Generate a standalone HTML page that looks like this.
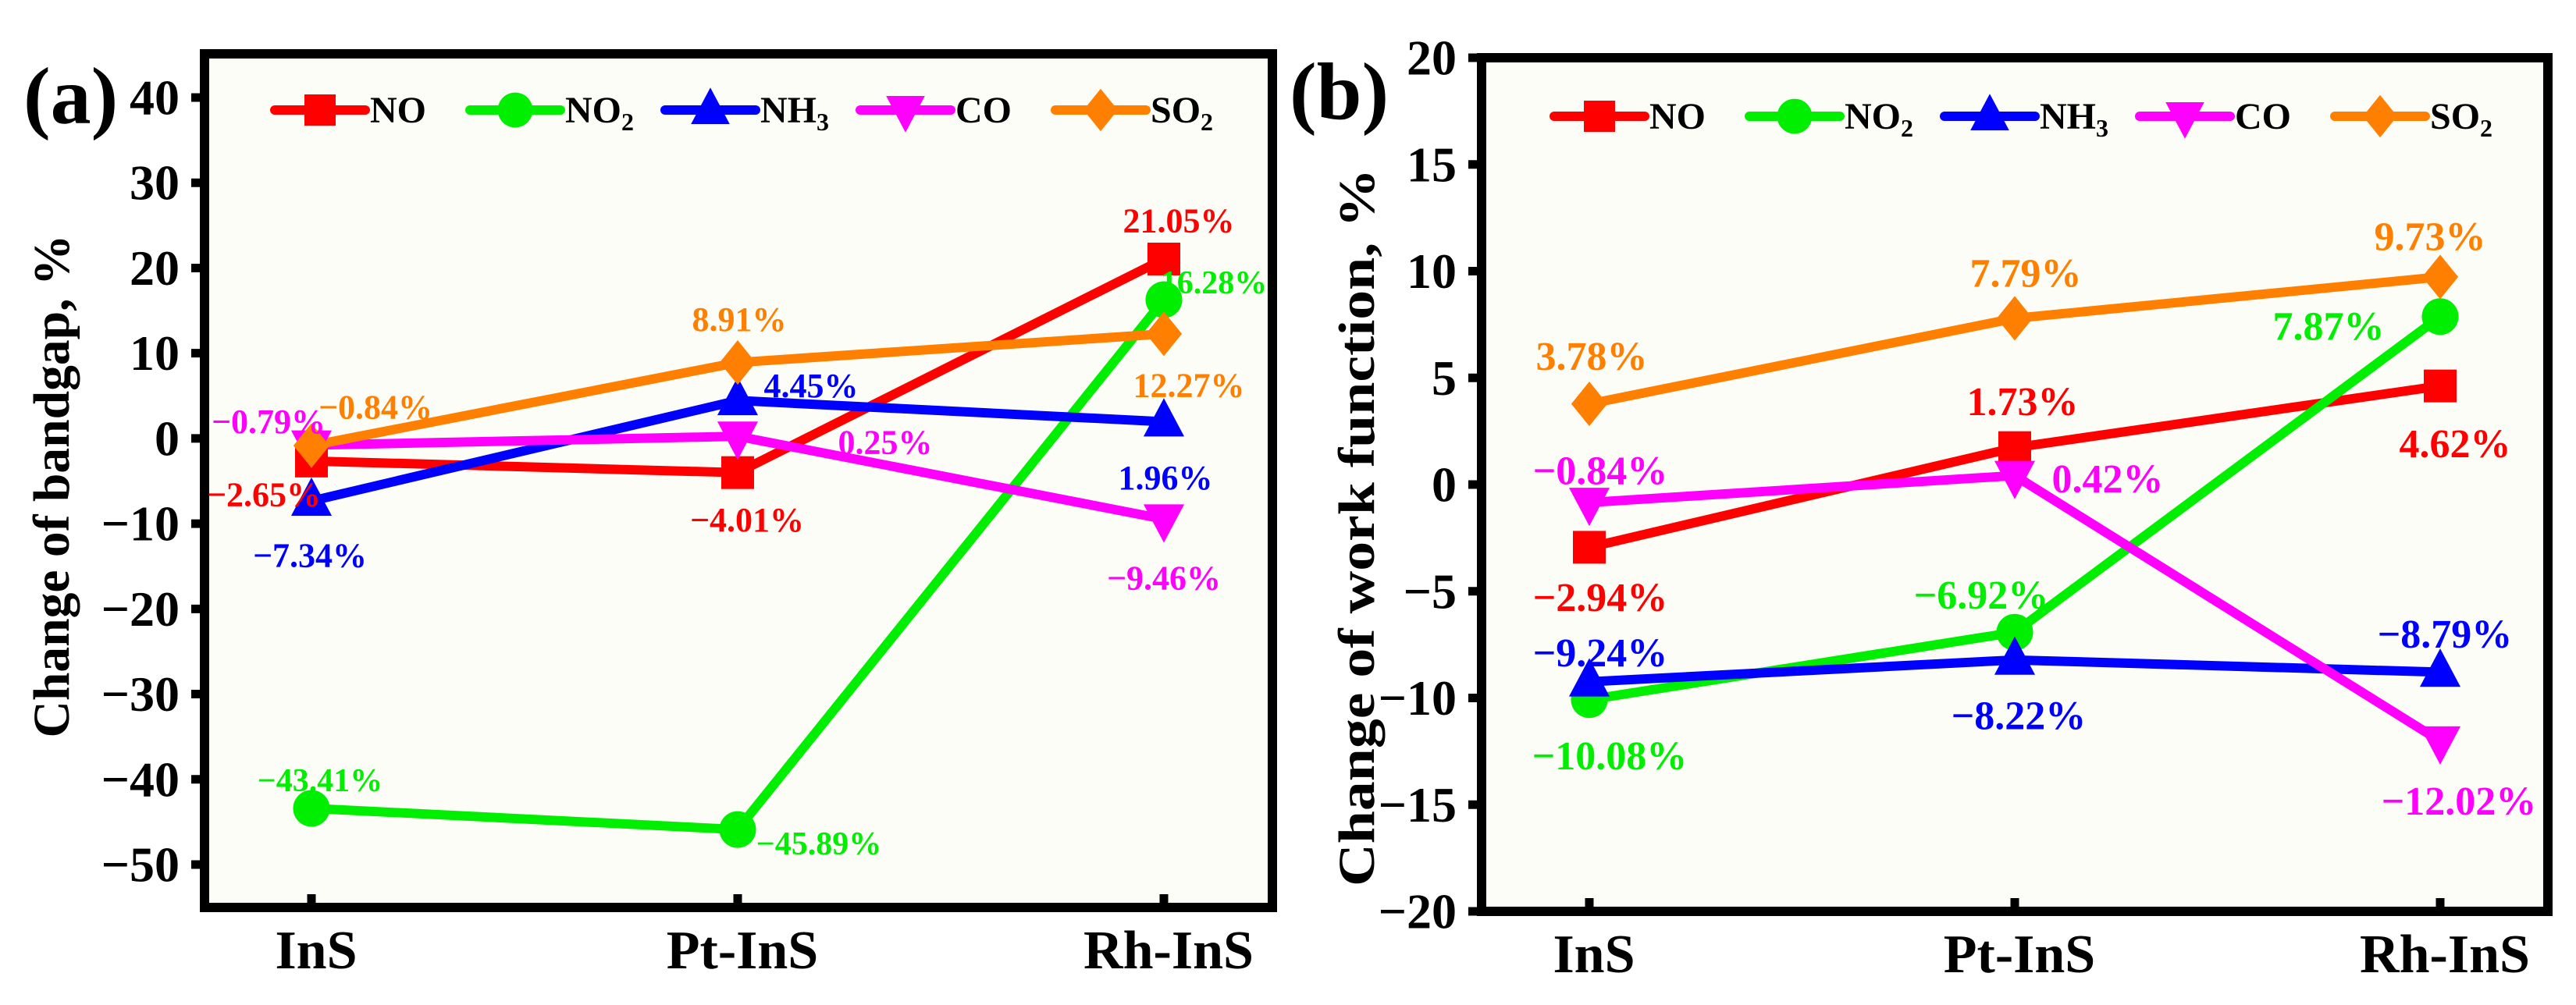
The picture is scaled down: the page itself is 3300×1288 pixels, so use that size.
<!DOCTYPE html>
<html><head><meta charset="utf-8">
<style>
html,body{margin:0;padding:0;background:#fff;}
svg{display:block;}
svg text{font-family:"Liberation Serif","DejaVu Serif Condensed","DejaVu Serif",serif;font-weight:bold;font-stretch:condensed;}
</style></head>
<body>
<svg id="chart" width="3300" height="1288" viewBox="0 0 3300 1288" xmlns="http://www.w3.org/2000/svg" font-weight="bold">
</svg>
<script>
// ---------- data ----------
const categories = ["InS", "Pt-InS", "Rh-InS"];
const seriesNames = ["NO", "NO2", "NH3", "CO", "SO2"];
// Panel (a): change of bandgap, %
const bandNO  = [-2.65, -4.01, 21.05];
const bandNO2 = [-43.41, -45.89, 16.28];
const bandNH3 = [-7.34, 4.45, 1.96];
const bandCO  = [-0.79, 0.25, -9.46];
const bandSO2 = [-0.84, 8.91, 12.27];
// Panel (b): change of work function, %
const workNO  = [-2.94, 1.73, 4.62];
const workNO2 = [-10.08, -6.92, 7.87];
const workNH3 = [-9.24, -8.22, -8.79];
const workCO  = [-0.84, 0.42, -12.02];
const workSO2 = [3.78, 7.79, 9.73];
const ticksA = [-50, -40, -30, -20, -10, 0, 10, 20, 30, 40];
const ticksB = [-20, -15, -10, -5, 0, 5, 10, 15, 20];

// ---------- styling ----------
const colors = ["#ff0000", "#00ee00", "#0000ff", "#ff00ff", "#ff8000"];
const markers = ["square", "circle", "up", "down", "diamond"];
// label offsets (px) relative to each marker [series][category]
const offA = [[[-61,43],[12,61],[19,-49]],
              [[11,-35],[104,19],[64,-21]],
              [[-2,70],[94,-19],[2,72]],
              [[-55,-30],[189,8],[0,76]],
              [[82,-49],[2,-55],[32,66]]];
const offB = [[[14,65],[10,-58],[19,75]],
              [[26,73],[-43,-47],[-143,13]],
              [[14,-36],[5,72],[6,-48]],
              [[14,-40],[119,5],[24,78]],
              [[3,-60],[14,-57],[-13,-51]]];

const NS = "http://www.w3.org/2000/svg";
const svg = document.getElementById("chart");
function mk(tag, attrs, parent) {
  const e = document.createElementNS(NS, tag);
  for (const k in attrs) e.setAttribute(k, attrs[k]);
  (parent || svg).appendChild(e);
  return e;
}
function fmt(v) { return (v < 0 ? "\u2212" : "") + Math.abs(v).toFixed(2) + "%"; }

function marker(g, type, x, y, color, s) {
  let e;
  if (type === "square") e = mk("rect", {x: x - s/2, y: y - s/2, width: s, height: s, fill: color}, g);
  else if (type === "circle") e = mk("circle", {cx: x, cy: y, r: s*0.56, fill: color}, g);
  else if (type === "up") e = mk("polygon", {points: `${x},${y - s*0.72} ${x - s*0.62},${y + s*0.45} ${x + s*0.62},${y + s*0.45}`, fill: color}, g);
  else if (type === "down") e = mk("polygon", {points: `${x},${y + s*0.72} ${x - s*0.62},${y - s*0.45} ${x + s*0.62},${y - s*0.45}`, fill: color}, g);
  else e = mk("polygon", {points: `${x},${y - s*0.68} ${x + s*0.55},${y} ${x},${y + s*0.68} ${x - s*0.55},${y}`, fill: color}, g);
  return e;
}

function panel(cfg) {
  const g = mk("g", {});
  
  
  const yS = v => cfg.y0 + (v - cfg.vmin) / (cfg.vmax - cfg.vmin) * (cfg.y1 - cfg.y0);
  const xS = i => cfg.xs[0] + i * (cfg.xs[1] - cfg.xs[0]);
  const bg = mk("rect", {x: cfg.L, y: cfg.T, width: cfg.R - cfg.L, height: cfg.B - cfg.T, fill: "#fdfdf8"}, g);
  
  
  cfg.ticks.forEach(t => {
    const y = yS(t);
    const tk = mk("line", {x1: cfg.L - 17, x2: cfg.L, y1: y, y2: y, stroke: "#000", "stroke-width": 11}, g);
    
    
    const tl = mk("text", {x: cfg.L - 32, y: y, "text-anchor": "end", "dominant-baseline": "central", "font-size": 64, fill: "#000"}, g);
    tl.textContent = (t < 0 ? "\u2212" : "") + Math.abs(t);
    
    
  });
  categories.forEach((c, i) => {
    const x = xS(i);
    const tk = mk("line", {x1: x, x2: x, y1: cfg.B - 17, y2: cfg.B, stroke: "#000", "stroke-width": 11}, g);
    
    
    const tl = mk("text", {x: x + 6, y: cfg.B + 78, "text-anchor": "middle", "font-size": 70, fill: "#000"}, g);
    tl.textContent = c;
    
    
  });
  const fr = mk("rect", {x: cfg.L, y: cfg.T, width: cfg.R - cfg.L, height: cfg.B - cfg.T, fill: "none", stroke: "#000", "stroke-width": 12}, g);
  
  
  cfg.data.forEach((vals, si) => {
    const sg = mk("g", {}, g);
    
    
    const pts = vals.map((v, i) => xS(i) + "," + yS(v)).join(" ");
    const pl = mk("polyline", {points: pts, fill: "none", stroke: colors[si], "stroke-width": 12, "stroke-linejoin": "round"}, sg);
    
    
  });
  cfg.data.forEach((vals, si) => {
    vals.forEach((v, i) => {
      const m = marker(g, markers[si], xS(i), yS(v), colors[si], 42);
      
      
    });
  });
  cfg.data.forEach((vals, si) => {
    vals.forEach((v, i) => {
      const o = cfg.off[si][i];
      const fs = (cfg.name === "panel-a" && si === 1) ? 42 : cfg.lfs;
      const t = mk("text", {x: xS(i) + o[0], y: yS(v) + o[1], "text-anchor": "middle", "dominant-baseline": "central", "font-size": fs, fill: colors[si]}, g);
      t.textContent = fmt(v);
      
      
    });
  });
  const lg = mk("g", {}, g);
  
  
  seriesNames.forEach((n, si) => {
    const x0 = cfg.legX + si * cfg.legDX;
    const eg = mk("g", {}, lg);
    
    
    mk("line", {x1: x0, x2: x0 + 116, y1: cfg.legY, y2: cfg.legY, stroke: colors[si], "stroke-width": 12, "stroke-linecap": "round"}, eg);
    marker(eg, markers[si], x0 + 58, cfg.legY, colors[si], 40);
    const t = mk("text", {x: x0 + 122, y: cfg.legY + 16, "font-size": 48, fill: "#000"}, eg);
    const sub = {"NO2": ["NO", "2"], "NH3": ["NH", "3"], "SO2": ["SO", "2"]}[n];
    if (sub) {
      t.textContent = sub[0];
      const s = mk("tspan", {dy: 10, "font-size": 32}, t);
      s.textContent = sub[1];
    } else t.textContent = n;
  });
  const at = mk("text", {x: cfg.titleX, y: cfg.titleY, "text-anchor": "middle", "font-size": 66, fill: "#000",
    transform: `rotate(-90 ${cfg.titleX} ${cfg.titleY})`, textLength: cfg.titleLen, lengthAdjust: "spacingAndGlyphs"}, g);
  at.textContent = cfg.title;
  
  
  const pl = mk("text", {x: cfg.letX, y: cfg.letY, "font-size": 104, fill: "#000"}, g);
  pl.textContent = cfg.letter;
  
  
}

panel({name: "panel-a", L: 262, R: 1630, T: 69, B: 1163, vmin: 40, vmax: -50, y0: 125, y1: 1108,
  xs: [399, 945], ticks: ticksA, data: [bandNO, bandNO2, bandNH3, bandCO, bandSO2], off: offA, lfs: 44,
  legX: 352, legDX: 250, legY: 141, title: "Change of bandgap, %", titleX: 88, titleY: 623, titleLen: 645,
  letter: "(a)", letX: 30, letY: 158});
panel({name: "panel-b", L: 1898, R: 3264, T: 74, B: 1168, vmin: 20, vmax: -20, y0: 74, y1: 1168,
  xs: [2036, 2581], ticks: ticksB, data: [workNO, workNO2, workNH3, workCO, workSO2], off: offB, lfs: 52,
  legX: 1991, legDX: 250, legY: 149, title: "Change of work function, %", titleX: 1760, titleY: 676, titleLen: 920,
  letter: "(b)", letX: 1652, letY: 152});
</script>
</body></html>
